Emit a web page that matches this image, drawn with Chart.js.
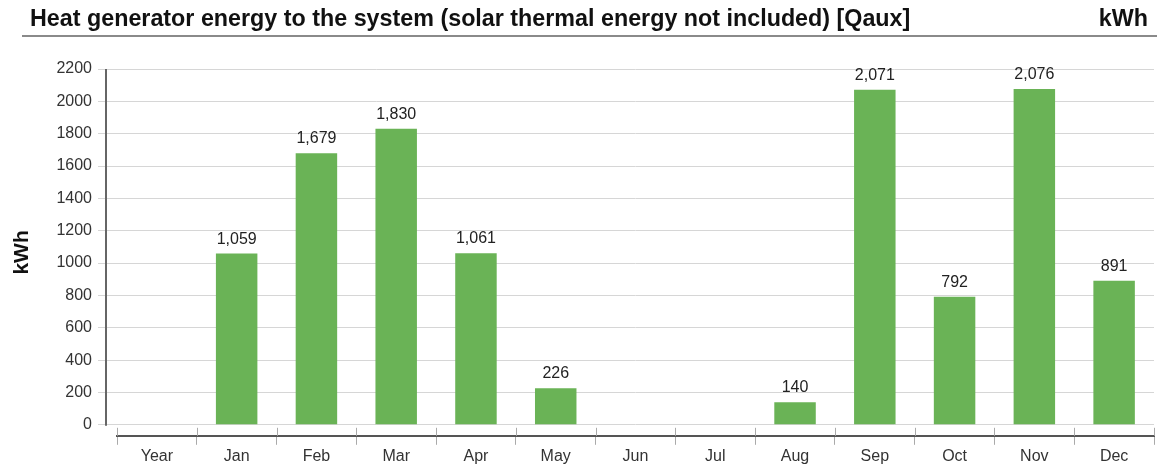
<!DOCTYPE html>
<html>
<head>
<meta charset="utf-8">
<script src="https://cdn.jsdelivr.net/npm/chart.js@4.4.1/dist/chart.umd.min.js"></script>
<style>
  html, body { margin: 0; padding: 0; background: #fff; }
  body { width: 1162px; height: 468px; position: relative; overflow: hidden; font-family: 'Liberation Sans', Arial, sans-serif; }
  #wrap { position: absolute; left: 0; top: 0; width: 1162px; height: 468px; }
  .head { position: absolute; top: 5px; font-weight: bold; font-size: 23.3px; color: #111; line-height: 26px; white-space: nowrap; }
  #title { left: 30px; }
  #unit { right: 14px; }
  #rule { position: absolute; left: 22px; top: 35px; width: 1135px; height: 2px; background: #8a8a8a; }
</style>
</head>
<body>
<div id="wrap"><canvas id="chart" width="1162" height="468"></canvas></div>
<div class="head" id="title">Heat generator energy to the system (solar thermal energy not included) [Qaux]</div>
<div class="head" id="unit">kWh</div>
<div id="rule"></div>
<script>
const months = ['Year', 'Jan', 'Feb', 'Mar', 'Apr', 'May', 'Jun', 'Jul', 'Aug', 'Sep', 'Oct', 'Nov', 'Dec'];
const qaux = [null, 1059, 1679, 1830, 1061, 226, null, null, 140, 2071, 792, 2076, 891];
const yTicks = [0, 200, 400, 600, 800, 1000, 1200, 1400, 1600, 1800, 2000, 2200];

Chart.defaults.font.family = "'Liberation Sans', Arial, sans-serif";

// value labels above the bars
const barLabels = {
  id: 'barLabels',
  afterDatasetsDraw(chart) {
    const ctx = chart.ctx;
    const meta = chart.getDatasetMeta(0);
    ctx.save();
    ctx.font = '16px "Liberation Sans", Arial, sans-serif';
    ctx.fillStyle = '#222';
    ctx.textAlign = 'center';
    ctx.textBaseline = 'alphabetic';
    meta.data.forEach((bar, i) => {
      const v = qaux[i];
      if (v == null) return;
      ctx.fillText(v.toLocaleString('en-US'), bar.x, bar.y - 10);
    });
    ctx.restore();
  }
};

// y axis line (stops at zero) and the little separators above the x axis
const axisExtras = {
  id: 'axisExtras',
  afterDraw(chart) {
    const ctx = chart.ctx;
    const x = chart.scales.x, y = chart.scales.y;
    ctx.save();
    ctx.strokeStyle = '#666';
    ctx.lineWidth = 2;
    ctx.beginPath();
    ctx.moveTo(chart.chartArea.left - 11, y.getPixelForValue(yTicks[yTicks.length - 1]));
    ctx.lineTo(chart.chartArea.left - 11, y.getPixelForValue(0) + 1);
    ctx.stroke();
    ctx.strokeStyle = '#aaa';
    ctx.lineWidth = 1;
    const step = x.width / months.length;
    for (let i = 0; i <= months.length; i++) {
      const px = Math.round(x.left + i * step) + 0.5;
      ctx.beginPath();
      ctx.moveTo(px, x.top - 8);
      ctx.lineTo(px, x.top);
      ctx.stroke();
    }
    ctx.restore();
  }
};

new Chart(document.getElementById('chart'), {
  type: 'bar',
  data: {
    labels: months,
    datasets: [{
      label: 'Qaux',
      data: qaux,
      backgroundColor: '#6ab356',
      borderWidth: 0,
      categoryPercentage: 1,
      barPercentage: 0.52
    }]
  },
  options: {
    responsive: false,
    animation: false,
    layout: { padding: { top: 69, right: 8, bottom: 0, left: 0 } },
    plugins: { legend: { display: false }, tooltip: { enabled: false } },
    scales: {
      x: {
        offset: true,
        border: { color: '#555', width: 2 },
        grid: { offset: true, drawOnChartArea: false, tickLength: 9, color: '#aaa' },
        ticks: { color: '#333', font: { size: 16 }, padding: 2, maxRotation: 0 }
      },
      y: {
        min: -68,
        max: 2200,
        border: { display: false },
        grid: { color: '#d6d6d6', tickLength: 19 },
        afterBuildTicks: scale => { scale.ticks = yTicks.map(v => ({ value: v })); },
        afterFit: scale => { scale.width = 117; },
        ticks: { color: '#333', font: { size: 16 }, padding: 6, callback: v => String(v) },
        title: { display: true, text: 'kWh', color: '#111', font: { size: 21, weight: 'bold' }, padding: { top: 10, bottom: 0 } }
      }
    }
  },
  plugins: [barLabels, axisExtras]
});
</script>
</body>
</html>
